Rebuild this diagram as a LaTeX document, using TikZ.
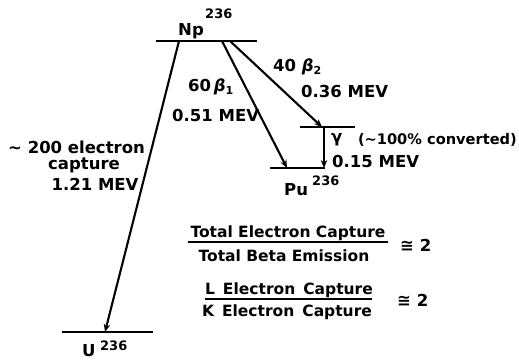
\documentclass[tikz,border=0pt]{standalone}
\usepackage{fontspec}
\setmainfont{DejaVu Sans}
\usetikzlibrary{arrows.meta}
\newcommand{\subn}[1]{\raisebox{-3.5pt}{\fontsize{11}{11}\selectfont #1}}
\begin{document}
\begin{tikzpicture}[x=1pt,y=-1pt,
  levelline/.style={line width=2.8pt},
  trans/.style={line width=2.1pt,-{Stealth[length=8pt,width=6.5pt]}},
  fracline/.style={line width=2pt},
  lab/.style={font=\fontsize{16.5}{19}\selectfont\bfseries,inner sep=0pt},
  smalllab/.style={font=\fontsize{15.5}{18}\selectfont\bfseries,inner sep=0pt},
  convlab/.style={font=\fontsize{14.6}{17}\selectfont\bfseries,inner sep=0pt},
  isolab/.style={font=\fontsize{13}{15}\selectfont\bfseries,inner sep=0pt,anchor=base west}]
\useasboundingbox (0,0) rectangle (519,360);
% energy levels
\coordinate (npl) at (156,41);  \coordinate (npr) at (257,41);
\coordinate (exl) at (300,127); \coordinate (exr) at (355,127);
\coordinate (pul) at (270,168); \coordinate (pur) at (325,168);
\coordinate (ul)  at (62,332);  \coordinate (ur)  at (153,332);
\draw[levelline] (npl) -- (npr);
\draw[levelline] (exl) -- (exr);
\draw[levelline] (pul) -- (pur);
\draw[levelline] (ul) -- (ur);
% transitions
\coordinate (ecs) at (179,41);  \coordinate (ece) at (105,332);
\coordinate (bas) at (222,41);  \coordinate (bae) at (287,168);
\coordinate (bbs) at (230,41);  \coordinate (bbe) at (322,127);
\coordinate (gs)  at (324,127); \coordinate (ge)  at (324,168);
\draw[trans] (ecs) -- (ece);
\draw[trans] (bas) -- (bae);
\draw[trans] (bbs) -- (bbe);
\draw[trans] (gs) -- (ge);
% isotope labels
\node[lab,anchor=base west] (np) at (178,35) {Np};
\node[isolab] (npm) at (205,18) {236};
\node[lab,anchor=base west] (pu) at (284,195) {Pu};
\node[isolab] (pum) at (312,185) {236};
\node[lab,anchor=base west] (u) at (82,356) {U};
\node[isolab] (um) at (100,350) {236};
% transition labels
\node[lab,anchor=base west] (b2n) at (273,71) {40 \textit{β}\subn{2}};
\node[lab,anchor=base west] (b2e) at (301,97) {0.36 MEV};
\node[lab,anchor=base west] (b1n) at (188,91) {60\,\textit{β}\subn{1}};
\node[lab,anchor=base west] (b1e) at (172,121) {0.51 MEV};
\node[lab,anchor=base west] (gam) at (331,142) {γ};
\node[convlab,anchor=base east] (conv) at (517,144) {(\textasciitilde100\% converted)};
\node[lab,anchor=base west] (ge2) at (332,167) {0.15 MEV};
\node[lab,anchor=base west] (ec1) at (8,153) {\textasciitilde\ 200 electron};
\node[lab,anchor=base] (ec2) at (84,169) {capture};
\node[lab,anchor=base] (ec3) at (95,190) {1.21 MEV};
% ratios
\coordinate (f1l) at (188,242); \coordinate (f1r) at (388,242);
\draw[fracline] (f1l) -- (f1r);
\node[smalllab,anchor=base] (f1n) at (288,237) {Total Electron Capture};
\node[smalllab,anchor=base] (f1d) at (284,261) {Total Beta Emission};
\node[lab,anchor=west] (f1v) at (400,245) {≅ 2};
\coordinate (f2l) at (205,299); \coordinate (f2r) at (372,299);
\draw[fracline] (f2l) -- (f2r);
\node[smalllab,anchor=base] (f2n) at (289,294) {L\, Electron\, Capture};
\node[smalllab,anchor=base] (f2d) at (287,316) {K\, Electron\, Capture};
\node[lab,anchor=west] (f2v) at (397,300) {≅ 2};
\end{tikzpicture}
\end{document}
